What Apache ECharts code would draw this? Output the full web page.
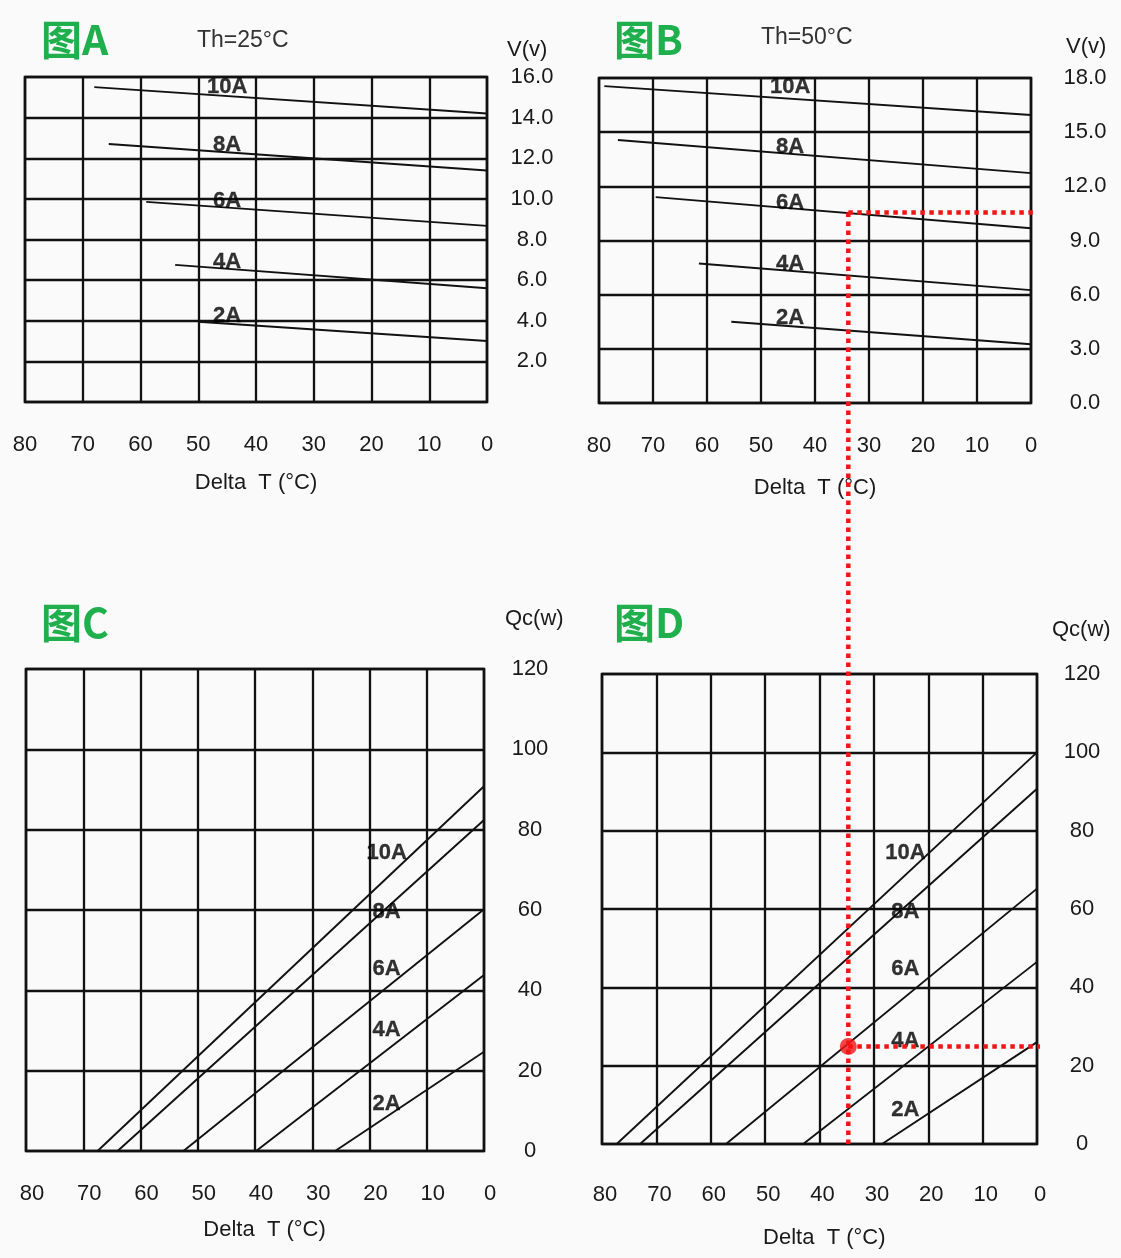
<!DOCTYPE html>
<html><head><meta charset="utf-8">
<script src="https://cdn.jsdelivr.net/npm/echarts@6/dist/echarts.min.js"></script>
<style>html,body{margin:0;padding:0;background:#fafafa}#c{width:1121px;height:1258px}</style>
</head><body><div id="c"></div>
<script>
// ---------- data ----------
const currents = ['10A', '8A', '6A', '4A', '2A'];
const deltaTTicks = [0, 10, 20, 30, 40, 50, 60, 70, 80];
const voltTicksA = [0, 2, 4, 6, 8, 10, 12, 14, 16];
const voltTicksB = [0, 3, 6, 9, 12, 15, 18];
const qcTicks = [0, 20, 40, 60, 80, 100, 120];

// Chart A: V vs Delta T, Th = 25 C  ([deltaT, V])
const A_10A = [[68, 15.5], [0, 14.2]];
const A_8A = [[65.5, 12.7], [0, 11.4]];
const A_6A = [[59, 9.85], [0, 8.67]];
const A_4A = [[54, 6.75], [0, 5.6]];
const A_2A = [[50, 3.95], [0, 3.0]];
// Chart B: V vs Delta T, Th = 50 C
const B_10A = [[79, 17.55], [0, 15.95]];
const B_8A = [[76.5, 14.57], [0, 12.73]];
const B_6A = [[69.5, 11.4], [0, 9.68]];
const B_4A = [[61.5, 7.73], [0, 6.25]];
const B_2A = [[55.5, 4.5], [0, 3.25]];
// Chart C: Qc vs Delta T, Th = 25 C
const C_10A = [[67.5, 0], [0, 90.8]];
const C_8A = [[64, 0], [0, 82.4]];
const C_6A = [[52.5, 0], [0, 60.2]];
const C_4A = [[39.8, 0], [0, 43.8]];
const C_2A = [[26, 0], [0, 24.7]];
// Chart D: Qc vs Delta T, Th = 50 C
const D_10A = [[77.3, 0], [0, 100]];
const D_8A = [[73, 0], [0, 90.7]];
const D_6A = [[57.2, 0], [0, 65.2]];
const D_4A = [[43, 0], [0, 46.5]];
const D_2A = [[28.5, 0], [0, 26]];

// curve label anchors (data coords)
const labelA = [[45, 15.5], [45, 12.66], [45, 9.9], [45, 6.9], [45, 4.26]];
const labelB = [[44.6, 17.5], [44.6, 14.2], [44.6, 11.1], [44.6, 7.7], [44.6, 4.7]];
const labelC = [[17, 74.2], [17, 59.6], [17, 45.4], [17, 30.2], [17, 11.8]];
const labelD = [[24.2, 74.3], [24.2, 59.2], [24.2, 44.7], [24.2, 26.3], [24.2, 8.7]];

// worked example (red)
const opDeltaT = 34.7;
const opVolt = 10.55;
const opQc = 24.9;

// ---------- chart ----------
const FONT = 'Liberation Sans, Arial, sans-serif';
const INK = '#111';
const TXT = '#1a1a1a';
const chart = echarts.init(document.getElementById('c'), null, {renderer: 'canvas'});

const grids = [
  {left: 25, top: 77, width: 462, height: 325},
  {left: 599, top: 78, width: 432, height: 325},
  {left: 26, top: 669, width: 458, height: 482},
  {left: 602, top: 674, width: 435, height: 470}
].map(g => Object.assign(g, {show: true, borderColor: INK, borderWidth: 2.6, backgroundColor: 'transparent', containLabel: false}));

const xCfg = [
  {margin: 32, gap: 70, pad: 0},
  {margin: 32, gap: 74, pad: 0},
  {margin: 32, gap: 68, pad: 12},
  {margin: 40, gap: 83, pad: 6}
];
const xAxes = xCfg.map((c, i) => ({
  type: 'value', gridIndex: i, min: 0, max: 80, interval: 10, inverse: true,
  name: 'Delta  T (°C)', nameLocation: 'middle', nameGap: c.gap,
  nameTextStyle: {fontFamily: FONT, fontSize: 22, color: TXT, padding: [0, 0, 0, c.pad * 1.6]},
  axisLine: {show: false}, axisTick: {show: false},
  axisLabel: {show: true, margin: c.margin, fontFamily: FONT, fontSize: 22, color: TXT,
    padding: [0, 0, 0, c.pad],
    formatter: v => deltaTTicks.includes(v) ? String(v) : ''},
  splitLine: {show: true, lineStyle: {color: INK, width: 2.3}}
}));

const yCfg = [
  {max: 16, interval: 2, ticks: voltTicksA, fmt: v => v === 0 ? '' : v.toFixed(1), name: 'V(v)', gap: 16, npad: 20, margin: 45},
  {max: 18, interval: 3, ticks: voltTicksB, fmt: v => v.toFixed(1), name: 'V(v)', gap: 20, npad: 35, margin: 54},
  {max: 120, interval: 20, ticks: qcTicks, fmt: v => String(v), name: 'Qc(w)', gap: 39, npad: 21, margin: 46},
  {max: 120, interval: 20, ticks: qcTicks, fmt: v => String(v), name: 'Qc(w)', gap: 33, npad: 15, margin: 45}
];
const yAxes = yCfg.map((c, i) => ({
  type: 'value', gridIndex: i, position: 'right', min: 0, max: c.max, interval: c.interval,
  name: c.name, nameLocation: 'end', nameGap: c.gap,
  nameTextStyle: {fontFamily: FONT, fontSize: 22, color: TXT, align: 'left', padding: [0, 0, 0, c.npad]},
  axisLine: {show: false, onZero: false}, axisTick: {show: false},
  axisLabel: {show: true, margin: c.margin, align: 'center', fontFamily: FONT, fontSize: 22, color: TXT,
    formatter: v => c.ticks.includes(v) ? c.fmt(v) : ''},
  splitLine: {show: true, lineStyle: {color: INK, width: 2.3}}
}));

const curveSets = [
  [A_10A, A_8A, A_6A, A_4A, A_2A],
  [B_10A, B_8A, B_6A, B_4A, B_2A],
  [C_10A, C_8A, C_6A, C_4A, C_2A],
  [D_10A, D_8A, D_6A, D_4A, D_2A]
];
const labelSets = [labelA, labelB, labelC, labelD];

const series = [];
curveSets.forEach((set, gi) => {
  set.forEach((data, k) => {
    series.push({
      type: 'line', name: currents[k], xAxisIndex: gi, yAxisIndex: gi, data: data,
      symbol: 'none', silent: true, animation: false,
      lineStyle: {color: INK, width: 1.9}
    });
  });
  series.push({
    type: 'scatter', xAxisIndex: gi, yAxisIndex: gi, silent: true, animation: false,
    symbolSize: 0, z: 5,
    data: labelSets[gi].map((p, k) => ({value: p, name: currents[k]})),
    label: {show: true, position: 'inside', formatter: p => p.name,
      fontFamily: FONT, fontSize: 22, fontWeight: 'bold', color: '#000',
      textBorderColor: '#000', textBorderWidth: 0.3}
  });
});
// red operating point in chart D
series.push({
  type: 'scatter', xAxisIndex: 3, yAxisIndex: 3, silent: true, animation: false, z: 10,
  symbolSize: 17, itemStyle: {color: '#f41414'}, data: [[opDeltaT, opQc]]
});

const titles = [
  {text: '图A', left: 36, top: 14},
  {text: '图B', left: 609, top: 14},
  {text: '图C', left: 36, top: 597},
  {text: '图D', left: 609, top: 597}
].map(t => Object.assign(t, {textStyle: {color: '#1fb04d', fontSize: 41, fontWeight: 'bold', fontFamily: 'Noto Sans CJK SC'}}));
titles.push({text: 'Th=25°C', left: 192, top: 24, textStyle: {color: '#333', fontSize: 23, fontWeight: 'normal', fontFamily: FONT}});
titles.push({text: 'Th=50°C', left: 756, top: 21, textStyle: {color: '#333', fontSize: 23, fontWeight: 'normal', fontFamily: FONT}});

chart.setOption({
  backgroundColor: '#fafafa',
  animation: false,
  title: titles,
  grid: grids,
  xAxis: xAxes,
  yAxis: yAxes,
  series: series
});

// red dotted guide lines, positioned through the library's own coordinate conversion
const pB = chart.convertToPixel({gridIndex: 1}, [opDeltaT, opVolt]);
const pBr = chart.convertToPixel({gridIndex: 1}, [0, opVolt]);
const pD = chart.convertToPixel({gridIndex: 3}, [opDeltaT, opQc]);
const pDr = chart.convertToPixel({gridIndex: 3}, [0, opQc]);
const pD0 = chart.convertToPixel({gridIndex: 3}, [opDeltaT, 0]);
const red = {stroke: '#f41414', lineWidth: 4.5, lineDash: [4.5, 4.5]};
const vx = pD[0];
chart.setOption({
  graphic: [
    {type: 'line', z: 100, shape: {x1: vx, y1: pB[1], x2: vx, y2: pD0[1] + 3}, style: red},
    {type: 'line', z: 100, shape: {x1: vx, y1: pB[1], x2: pBr[0] + 2, y2: pB[1]}, style: red},
    {type: 'line', z: 100, shape: {x1: vx, y1: pD[1], x2: pDr[0] + 3, y2: pD[1]}, style: red}
  ]
});
</script></body></html>
